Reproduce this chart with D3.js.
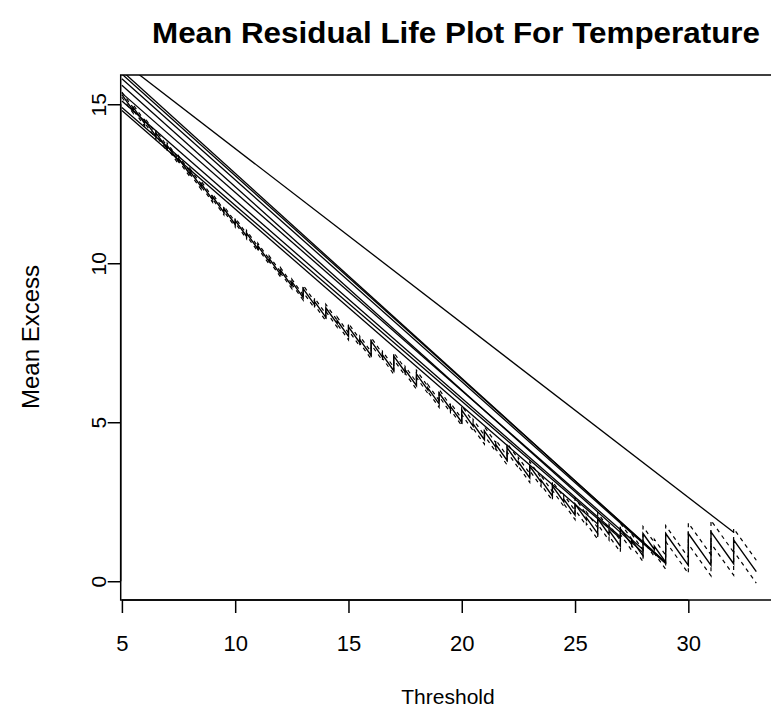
<!DOCTYPE html>
<html><head><meta charset="utf-8">
<script src="https://cdn.jsdelivr.net/npm/d3@7"></script>
<style>body{margin:0;background:#fff}svg text{font-family:"Liberation Sans",Arial,Helvetica,sans-serif;fill:#000}</style>
</head><body>
<svg id="chart" width="771" height="711"></svg>
<script>
// ---- data ----
const thresholdX = [5,5.5,5.5,6,6,6.5,6.5,7,7,7.5,7.5,8,8,8.5,8.5,9,9,9.5,9.5,10,10,10.5,10.5,11,11,11.5,11.5,12,12,12.5,12.5,13,13,13.5,13.5,14,14,14.5,14.5,15,15,15.5,15.5,16,16,16.5,16.5,17,17,17.5,17.5,18,18,18.5,18.5,19,19,19.5,19.5,20,20,20.5,20.5,21,21,21.5,21.5,22,22,22.5,22.5,23,23,23.5,23.5,24,24,24.5,24.5,25,25,25.5,25.5,26,26,26.5,26.5,27,27,27.5,27.5,28,28,28.5,28.5,29,29,30,30,31,31,32,32,33];
const meanExcess = [15.30,14.80,14.90,14.40,14.50,14.00,14.10,13.60,13.70,13.20,13.30,12.80,12.90,12.40,12.50,12.00,12.10,11.60,11.72,11.22,11.35,10.85,10.95,10.45,10.55,10.05,10.15,9.65,9.78,9.28,9.42,8.92,9.20,8.70,8.80,8.30,8.60,8.10,8.20,7.70,8.00,7.50,7.60,7.10,7.55,7.05,7.12,6.62,7.08,6.58,6.65,6.15,6.52,6.02,6.08,5.58,5.92,5.42,5.50,5.00,5.38,4.88,4.95,4.45,4.72,4.22,4.30,3.80,4.20,3.70,3.75,3.25,3.62,3.12,3.18,2.68,3.00,2.50,2.58,2.08,2.43,1.93,2.00,1.50,1.97,1.47,1.60,1.10,1.65,1.15,1.30,0.80,1.50,1.00,1.10,0.60,1.50,0.50,1.50,0.50,1.55,0.55,1.30,0.30];
const ciUpper = [15.38,14.88,14.98,14.48,14.58,14.08,14.18,13.68,13.78,13.28,13.38,12.88,12.98,12.48,12.58,12.08,12.18,11.68,11.80,11.30,11.43,10.93,11.03,10.53,10.63,10.13,10.23,9.73,9.86,9.36,9.50,9.00,9.31,8.81,8.91,8.41,8.71,8.21,8.31,7.81,8.11,7.61,7.71,7.21,7.66,7.16,7.23,6.73,7.19,6.69,6.76,6.26,6.63,6.13,6.19,5.69,6.03,5.53,5.61,5.11,5.52,5.02,5.09,4.59,4.86,4.36,4.44,3.94,4.34,3.84,3.89,3.39,3.76,3.26,3.32,2.82,3.14,2.64,2.72,2.22,2.61,2.11,2.18,1.68,2.15,1.65,1.78,1.28,1.83,1.33,1.48,0.98,1.72,1.22,1.32,0.82,1.75,0.75,1.83,0.83,1.91,0.91,1.66,0.66];
const ciLower = [15.22,14.72,14.82,14.32,14.42,13.92,14.02,13.52,13.62,13.12,13.22,12.72,12.82,12.32,12.42,11.92,12.02,11.52,11.64,11.14,11.27,10.77,10.87,10.37,10.47,9.97,10.07,9.57,9.70,9.20,9.34,8.84,9.09,8.59,8.69,8.19,8.49,7.99,8.09,7.59,7.89,7.39,7.49,6.99,7.44,6.94,7.01,6.51,6.97,6.47,6.54,6.04,6.41,5.91,5.97,5.47,5.81,5.31,5.39,4.89,5.24,4.74,4.81,4.31,4.58,4.08,4.16,3.66,4.06,3.56,3.61,3.11,3.48,2.98,3.04,2.54,2.86,2.36,2.44,1.94,2.25,1.75,1.82,1.32,1.79,1.29,1.42,0.92,1.47,0.97,1.12,0.62,1.28,0.78,0.88,0.38,1.25,0.25,1.17,0.17,1.19,0.19,0.94,-0.06];
// straight connecting lines
const chordX0 = [5,5,5,5,5,5,5,5,5];
const chordY0 = [16.35,16.05,15.95,15.80,15.60,15.35,15.10,14.90,14.80];
const chordX1 = [32,29,29,29,28,28,27,27,26];
const chordY1 = [1.54,0.58,0.60,0.56,0.90,1.00,1.40,1.35,1.80];
const xTicks = [5,10,15,20,25,30];
const yTicks = [0,5,10,15];
const titleText = "Mean Residual Life Plot For Temperature";
const xLabel = "Threshold";
const yLabel = "Mean Excess";

// ---- layout ----
const svg = d3.select("#chart");
const P = {left:120.7, right:781, top:75, bottom:600};
const x = d3.scaleLinear().domain([4.947, 34.09]).range([P.left, P.right]);
const y = d3.scaleLinear().domain([-0.59, 15.92]).range([P.bottom, P.top]);

svg.append("defs").append("clipPath").attr("id","clip")
  .append("rect").attr("x",P.left).attr("y",P.top).attr("width",P.right-P.left).attr("height",P.bottom-P.top);

const g = svg.append("g").attr("clip-path","url(#clip)");
const line = d3.line().x(d=>x(d[0])).y(d=>y(d[1]));

const mainPts = thresholdX.map((t,i)=>[t, meanExcess[i]]);
const upPts = thresholdX.map((t,i)=>[t, ciUpper[i]]);
const loPts = thresholdX.map((t,i)=>[t, ciLower[i]]);

[loPts, upPts].forEach(pts=>{
  g.append("path").attr("d", line(pts)).attr("fill","none").attr("stroke","#000")
   .attr("stroke-width",1.2).attr("stroke-dasharray","4,4");
});
g.append("path").attr("d", line(mainPts)).attr("fill","none").attr("stroke","#000").attr("stroke-width",1.4);

chordX0.forEach((v,i)=>{
  g.append("path").attr("d", line([[v, chordY0[i]],[chordX1[i], chordY1[i]]]))
   .attr("fill","none").attr("stroke","#000").attr("stroke-width",1.3);
});

// box
svg.append("rect").attr("x",P.left).attr("y",P.top).attr("width",P.right-P.left).attr("height",P.bottom-P.top)
  .attr("fill","none").attr("stroke","#000").attr("stroke-width",1.5);

// x axis
const xa = svg.append("g").attr("transform",`translate(0,${P.bottom})`)
  .call(d3.axisBottom(x).tickValues(xTicks).tickSize(13).tickSizeOuter(0).tickPadding(0).tickFormat(d3.format("d")));
xa.select(".domain").attr("d",`M${x(xTicks[0])},0H${x(xTicks[xTicks.length-1])}`).attr("stroke-width",1.5);
xa.selectAll(".tick line").attr("stroke-width",1.5);
xa.selectAll(".tick text").attr("y",51).attr("dy",0).style("font-size","22px").attr("font-family",null);

// y axis
const ya = svg.append("g").attr("transform",`translate(${P.left},0)`)
  .call(d3.axisLeft(y).tickValues(yTicks).tickSize(13).tickSizeOuter(0).tickFormat(d3.format("d")));
ya.select(".domain").attr("d",`M0,${y(yTicks[0])}V${y(yTicks[yTicks.length-1])}`).attr("stroke-width",1.5);
ya.selectAll(".tick line").attr("stroke-width",1.5);
ya.selectAll(".tick text").attr("x",null).attr("dy",0).attr("text-anchor","middle")
  .attr("transform","translate(-15,0) rotate(-90)").style("font-size","21px").attr("font-family",null);

// titles
svg.append("text").attr("x",456).attr("y",43).attr("text-anchor","middle")
  .attr("textLength",608).attr("lengthAdjust","spacingAndGlyphs")
  .style("font-size","29px").style("font-weight","bold").text(titleText);
svg.append("text").attr("x",448).attr("y",704).attr("text-anchor","middle")
  .style("font-size","21px").text(xLabel);
svg.append("text").attr("transform",`translate(39,337) rotate(-90)`).attr("text-anchor","middle")
  .style("font-size","24px").text(yLabel);
</script>
</body></html>
